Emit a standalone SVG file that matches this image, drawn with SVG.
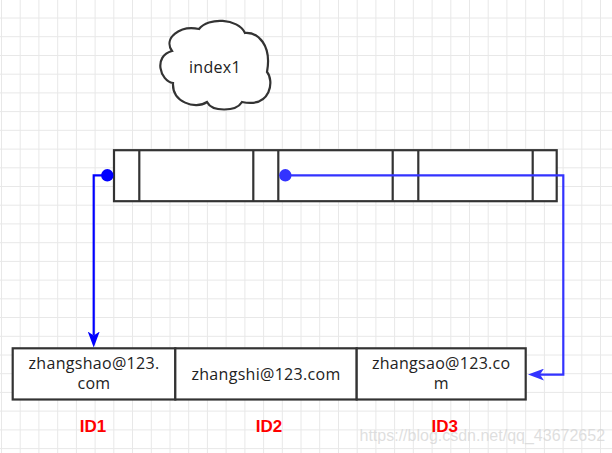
<svg xmlns="http://www.w3.org/2000/svg" width="612" height="453" viewBox="0 0 612 453">
  <style>
    .grid { stroke: #e8e8e8; stroke-width: 1; fill: none; }
    .box { fill: #ffffff; stroke: #333333; stroke-width: 2.2; }
    .div { stroke: #333333; stroke-width: 2.2; fill: none; }
    .lbl { font-family: "Open Sans", "Noto Sans", sans-serif; font-size: 16px; fill: #222222; text-anchor: middle; letter-spacing: 0.3px; }
    .id { font-family: "Liberation Sans", Arial, sans-serif; font-size: 17px; font-weight: bold; fill: #ff0000; text-anchor: middle; }
    .wm { font-family: "Liberation Sans", Arial, sans-serif; font-size: 16px; fill: #d4d4d4; fill-opacity: 0.75; }
    .c1 { stroke: #0000ff; stroke-width: 2.2; fill: none; }
    .c2 { stroke: #3333ff; stroke-width: 2.2; fill: none; }
  </style>
  <defs>
    <marker id="arrA" markerUnits="userSpaceOnUse" viewBox="0 0 16 12" refX="4" refY="6" markerWidth="16" markerHeight="12" orient="auto">
      <path d="M0,0 L16,6 L0,12 L4,6 Z" fill="#0000ff"/>
    </marker>
    <marker id="arrB" markerUnits="userSpaceOnUse" viewBox="0 0 16 12" refX="4" refY="6" markerWidth="16" markerHeight="12" orient="auto">
      <path d="M0,0 L16,6 L0,12 L4,6 Z" fill="#3333ff"/>
    </marker>
  </defs>
  <rect x="0" y="0" width="612" height="453" fill="#ffffff"/>
  <path class="grid" d="M1.5,0V453M20.2,0V453M38.9,0V453M57.7,0V453M76.4,0V453M95.1,0V453M113.8,0V453M132.5,0V453M151.3,0V453M170,0V453M188.7,0V453M207.4,0V453M226.1,0V453M244.9,0V453M263.6,0V453M282.3,0V453M301,0V453M319.7,0V453M338.5,0V453M357.2,0V453M375.9,0V453M394.6,0V453M413.3,0V453M432.1,0V453M450.8,0V453M469.5,0V453M488.2,0V453M506.9,0V453M525.7,0V453M544.4,0V453M563.1,0V453M581.8,0V453M600.5,0V453
  M0,18H612M0,36.7H612M0,55.5H612M0,74.2H612M0,92.9H612M0,111.6H612M0,130.3H612M0,149.1H612M0,167.8H612M0,186.5H612M0,205.2H612M0,223.9H612M0,242.7H612M0,261.4H612M0,280.1H612M0,298.8H612M0,317.5H612M0,336.3H612M0,355H612M0,373.7H612M0,392.4H612M0,411.1H612M0,429.9H612M0,448.6H612"/>

  <g id="cloud-index1">
    <path class="box" d="M172,51 C163,38 180,25 199,29 C208,17 238,18 245,33 C258,32 272,45 267,72 C274,80 272,108 242,102 C236,112 212,112 207,102 C195,110 172,102 173,83 C160,81 153,56 172,51 Z"/>
    <text class="lbl" x="215" y="72.5">index1</text>
  </g>

  <g id="index-bar">
    <rect class="box" x="114" y="150.2" width="442.7" height="51"/>
    <path class="div" d="M139.3,150.2V201.2M253.3,150.2V201.2M278.3,150.2V201.2M392.7,150.2V201.2M418.3,150.2V201.2M532.7,150.2V201.2"/>
  </g>

  <g id="cell-id1">
    <rect class="box" x="12.7" y="348.3" width="162.6" height="51.2"/>
    <text class="lbl" x="94" y="369.3">zhangshao@123.</text>
    <text class="lbl" x="94" y="389.3">com</text>
  </g>
  <g id="cell-id2">
    <rect class="box" x="175.3" y="348.3" width="181.4" height="51.2"/>
    <text class="lbl" x="266" y="379.5">zhangshi@123.com</text>
  </g>
  <g id="cell-id3">
    <rect class="box" x="356.7" y="348.3" width="169" height="51.2"/>
    <text class="lbl" x="441.2" y="369.3">zhangsao@123.co</text>
    <text class="lbl" x="441.2" y="389.3">m</text>
  </g>

  <g id="id-labels">
    <text class="id" x="93" y="432.3">ID1</text>
    <text class="id" x="269" y="432.3">ID2</text>
    <text class="id" x="444.7" y="432.3">ID3</text>
  </g>

  <g id="connectors">
    <path class="c1" d="M107.3,175.3H93.7V335.5" marker-end="url(#arrA)"/>
    <circle cx="107.3" cy="175.3" r="6.2" fill="#0000ff"/>
    <path class="c2" d="M285.3,175.3H563.3V374.6H540" marker-end="url(#arrB)"/>
    <circle cx="285.3" cy="175.3" r="6.2" fill="#3333ff"/>
  </g>

  <text class="wm" x="359.5" y="441">https://blog.csdn.net/qq_43672652</text>
</svg>
